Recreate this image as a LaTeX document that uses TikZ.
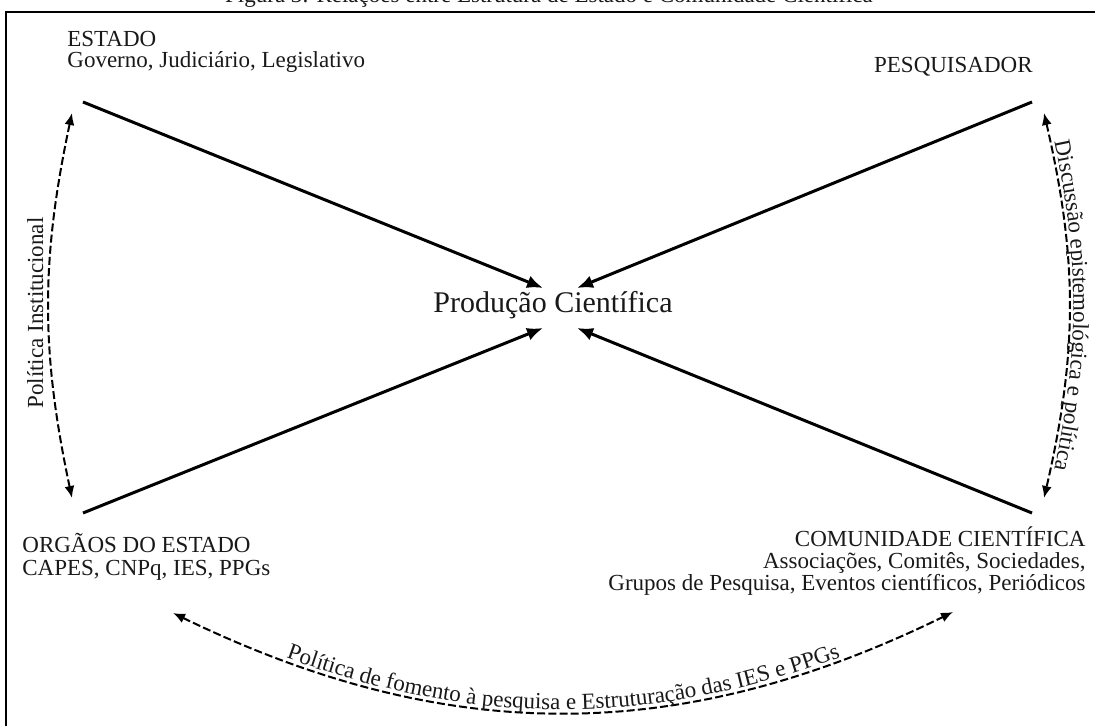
\documentclass[tikz,border=0pt]{standalone}
\usepackage{fontspec}
\setmainfont{Liberation Serif}
\usepackage{tikz}
\usetikzlibrary{arrows.meta, positioning, decorations.text}
\tikzset{
  actorlabel/.style={
    inner sep=0pt, font=\fontsize{11.5}{13}\selectfont, text=black!90
  },
  centrallabel/.style={
    inner sep=0pt, font=\fontsize{15}{17}\selectfont, text=black!90
  },
  flowarrow/.style={
    -{Latex[length=8pt,width=6.5pt]}, line width=1.5pt
  },
  relarrow/.style={
    {Latex[length=6pt,width=5pt]}-{Latex[length=6pt,width=5pt]},
    line width=1pt, dash pattern=on 4pt off 1.6pt
  },
}
\newcommand{\arcfont}{\fontsize{11.5}{13}\selectfont}

\begin{document}
\begin{tikzpicture}[x=0.5pt, y=-0.5pt]
  \useasboundingbox (0,0) rectangle (1095,726);
  \clip (0,0) rectangle (1095,726);

  % === Frame and caption ===
  \draw[line width=1.3pt] (6,780) |- (1130,12);
  \node[actorlabel, anchor=base] (caption) at (549,3)
    {Figura 3: Relações entre Estrutura de Estado e Comunidade Científica};

  % === Actors ===
  \node[actorlabel, anchor=base west] (estado) at (67,47) {ESTADO};
  \node[actorlabel, anchor=base west] (estadosub) at (67,68)
    {Governo, Judiciário, Legislativo};

  \node[actorlabel, anchor=base east] (pesquisador) at (1033,73) {PESQUISADOR};

  \node[actorlabel, anchor=base west] (orgaos) at (22,552) {ORGÃOS DO ESTADO};
  \node[actorlabel, anchor=base west] (orgaossub) at (22,575)
    {CAPES, CNPq, IES, PPGs};

  \node[actorlabel, anchor=base east] (comunidade) at (1086,546)
    {COMUNIDADE CIENTÍFICA};
  \node[actorlabel, anchor=base east] (comunidadesub) at (1086,568)
    {Associações, Comitês, Sociedades,};
  \node[actorlabel, anchor=base east] (comunidadesubb) at (1086,590)
    {Grupos de Pesquisa, Eventos científicos, Periódicos};

  % === Centre ===
  \node[centrallabel, anchor=base] (producao) at (553,313) {Produção Científica};

  % === Connector ends ===
  \coordinate (estadoend) at (83,102);
  \coordinate (pesquisadorend) at (1032,102);
  \coordinate (orgaosend) at (83,513);
  \coordinate (comunidadeend) at (1032,513);
  \coordinate (tipnw) at (543,288);
  \coordinate (tipne) at (577,288);
  \coordinate (tipsw) at (543,328);
  \coordinate (tipse) at (577,328);

  \draw[flowarrow] (estadoend) -- (tipnw);
  \draw[flowarrow] (pesquisadorend) -- (tipne);
  \draw[flowarrow] (orgaosend) -- (tipsw);
  \draw[flowarrow] (comunidadeend) -- (tipse);

  % === Relations ===
  \coordinate (insttop) at (72,113);
  \coordinate (instbot) at (72,498);
  \coordinate (episttop) at (1044,113);
  \coordinate (epistbot) at (1044,498);
  \coordinate (fomleft) at (173,613);
  \coordinate (fomright) at (953,612);

  \draw[relarrow] (instbot) to[bend left=12] (insttop);
  \node[actorlabel, rotate=90, anchor=base] (instlabel) at (43,313)
    {Política Institucional};

  \draw[relarrow] (episttop) to[bend left=13] (epistbot);
  \path[decorate, decoration={text along path, text align=center, raise=2pt,
    text color=black!90, text={|\arcfont|Discussão epistemológica e política}}]
    (episttop) to[bend left=13] (epistbot);

  \draw[relarrow] (fomleft) to[bend right=26] (fomright);
  \path[decorate, decoration={text along path, text align=center, raise=1.5pt,
    text color=black!90,
    text={|\arcfont|Política de fomento à pesquisa e Estruturação das IES e PPGs}}]
    (fomleft) to[bend right=26] (fomright);

\end{tikzpicture}
\end{document}
